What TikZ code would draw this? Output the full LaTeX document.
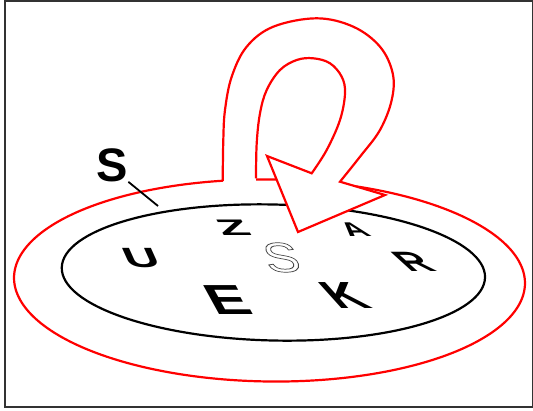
\documentclass[tikz,border=0pt]{standalone}
\usepackage{fontspec}
\setmainfont{Liberation Sans}
\definecolor{ringred}{RGB}{255,0,0}
\definecolor{framegray}{RGB}{51,51,51}
\definecolor{symgray}{RGB}{70,70,70}
\tikzset{
  letter/.style={inner sep=0pt, transform shape},
  ring/.style={draw=ringred, line width=2.2pt, line join=miter},
}
\newcommand{\lsize}[1]{\fontsize{#1}{#1}\selectfont\bfseries}
\newcommand{\hollow}[1]{\special{pdf:literal direct 1 Tr 0.9 w}#1\special{pdf:literal direct 0 Tr}}
\newcommand{\loopout}{(222.7,181) (223.3,140) (225,110) (231.7,76.7) (246.7,46.7) (273.3,26.7) (316.7,18.3) (353.3,26.7) (380,46.7) (392.7,73.3) (391.7,100) (380,130) (360,156.7) (340,181.7)}
\newcommand{\loopin}{(311.7,173.3) (326.7,150) (340,120) (345,93.3) (341.7,76.7) (330,63.3) (313.3,58.3) (296.7,60) (280,70) (266.7,90) (260,113.3) (256.7,143.3) (256,178.3)}

\begin{document}
\begin{tikzpicture}[x=1pt,y=-1pt]
\useasboundingbox (0,0) rectangle (533,410);
\draw[framegray, line width=1.5pt] (5,0.75) rectangle (532.25,406.75);
% disc
\draw[line width=2.2pt, shift={(273.4,272.5)}, rotate=-1.35] (0,0) ellipse [x radius=211.7, y radius=68];
% ring round the disc
\draw[ring] plot[domain=-453.3:-100.8, samples=240, variable=\t]
  ({269.5+255.5*cos(\t)*cos(0.7)-101*sin(\t)*sin(0.7)}, {280.5+255.5*cos(\t)*sin(0.7)+101*sin(\t)*cos(0.7)});
% loop with arrow head
\fill[white] plot[smooth, tension=0.6] coordinates {\loopout} -- (385,195) -- (298,232) -- (267,156)
  -- plot[smooth, tension=0.6] coordinates {\loopin} -- cycle;
\draw[ring] plot[smooth, tension=0.6] coordinates {\loopout} -- (385,195) -- (298,232) -- (267,156)
  -- plot[smooth, tension=0.6] coordinates {\loopin};
% label
\node[letter, font=\lsize{47}] (slab) at (112.5,165) {S};
\coordinate (sfoot) at (158,206);
\draw[line width=1.8pt] (slab.south east) -- (sfoot);
% letters on the disc
\begin{scope}[shift={(141,258)}, xslant=-0.45, yscale=0.58]
  \node[letter, font=\lsize{48}] (u) {U};
\end{scope}
\begin{scope}[shift={(233,228)}, xslant=-0.6, yscale=0.45]
  \node[letter, font=\lsize{50}] (z) {Z};
\end{scope}
\begin{scope}[shift={(354,230)}, xslant=-1.0, yscale=0.62]
  \node[letter, font=\lsize{32}] (a) {A};
\end{scope}
\begin{scope}[shift={(413,262)}, xslant=-1.1, yscale=0.7]
  \node[letter, font=\lsize{40}] (r) {R};
\end{scope}
\begin{scope}[shift={(228,300)}, xslant=-0.55, yscale=0.7]
  \node[letter, font=\lsize{60}] (e) {E};
\end{scope}
\begin{scope}[shift={(345,296)}, xslant=-0.9, yscale=0.77]
  \node[letter, font=\lsize{49}] (k) {K};
\end{scope}
\begin{scope}[shift={(281.5,257.5)}, xslant=-0.3, yscale=0.8]
  \node[letter, text=symgray, font=\fontsize{52}{52}\selectfont] (sym) {\hollow{S}};
\end{scope}
\end{tikzpicture}
\end{document}
